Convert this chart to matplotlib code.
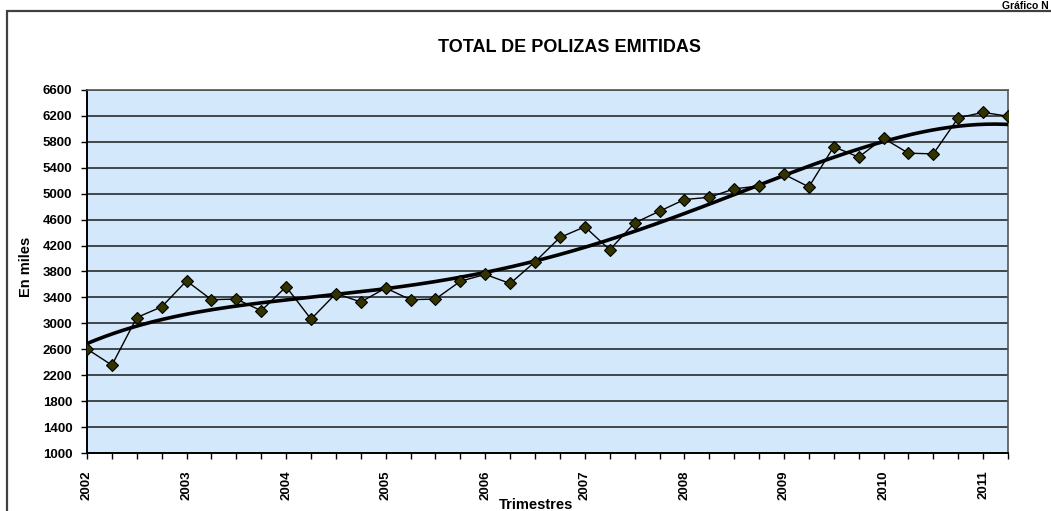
import matplotlib
matplotlib.use("Agg")
import matplotlib.pyplot as plt
import numpy as np
from matplotlib.patches import Rectangle

plt.rcParams["font.family"] = ["Liberation Sans", "DejaVu Sans"]
plt.rcParams["font.weight"] = "bold"

# quarterly values, 2002Q1 .. 2011Q2 (thousands)
years = [2002, 2003, 2004, 2005, 2006, 2007, 2008, 2009, 2010, 2011]
polizas = [
    2605, 2355, 3090, 3255,
    3655, 3365, 3375, 3195,
    3565, 3065, 3460, 3330,
    3545, 3365, 3375, 3650,
    3755, 3615, 3950, 4325,
    4490, 4135, 4550, 4730,
    4910, 4945, 5075, 5120,
    5300, 5105, 5725, 5565,
    5855, 5625, 5615, 6170,
    6255, 6195,
]
y_ticks = list(range(1000, 6601, 400))

W, H = 1051, 511
fig = plt.figure(figsize=(W / 100, H / 100), dpi=100)

# outer chart frame (cut by the image edges on the right/bottom)
fig.patches.append(Rectangle((7 / W, -0.1), 1.2, 1 - 11 / H + 0.1,
                             transform=fig.transFigure, fill=False,
                             edgecolor="#404040", linewidth=1.6))

ax = fig.add_axes([87 / W, (H - 453) / H, (1008 - 87) / W, (453 - 90) / H])
ax.set_facecolor("#D4E8FC")

q = np.arange(len(polizas)) / 4.0 + years[0]
ax.plot(q, polizas, color="black", linewidth=1.0, marker="D", markersize=5.8,
        markerfacecolor="#333300", markeredgecolor="black", markeredgewidth=0.8,
        zorder=4)

# polynomial trend line (order 4)
coef = np.polyfit(q - years[0], polizas, 4)
tq = np.linspace(0, q[-1] - years[0], 300)
ax.plot(tq + years[0], np.polyval(coef, tq), color="black", linewidth=2.6, zorder=3)

ax.set_xlim(q[0], q[-1])
ax.set_ylim(1000, 6600)
ax.set_yticks(y_ticks)
ax.set_xticks(years)
ax.set_xticks(q, minor=True)
ax.set_xticklabels([str(y) for y in years], rotation=90, fontsize=9.5, fontweight="bold")
ax.set_yticklabels([str(v) for v in y_ticks], fontsize=9.5, fontweight="bold")
ax.tick_params(axis="x", which="both", direction="out", length=4.5, width=1, pad=8)
ax.tick_params(axis="y", direction="out", length=4.5, width=1, pad=6)
ax.grid(axis="y", color="#1a1a1a", linewidth=1.1)
ax.set_axisbelow(True)

for side in ("left", "bottom"):
    ax.spines[side].set_color("black")
    ax.spines[side].set_linewidth(1.4)
for side in ("top", "right"):
    ax.spines[side].set_color("#555555")
    ax.spines[side].set_linewidth(1.2)

fig.text(570 / W, 1 - 48 / H, "TOTAL DE POLIZAS EMITIDAS", ha="center", va="center",
         fontsize=13, fontweight="bold")
fig.text(536 / W, 2 / H, "Trimestres", ha="center", va="baseline",
         fontsize=10.5, fontweight="bold")
fig.text(26 / W, 1 - 267 / H, "En miles", rotation=90, ha="center", va="center",
         fontsize=10.5, fontweight="bold")
fig.text(1 - 2 / W, 1 - 9 / H, "Gráfico N", ha="right", va="baseline",
         fontsize=7.5, fontweight="bold")

fig.savefig("out.png", dpi=100)
